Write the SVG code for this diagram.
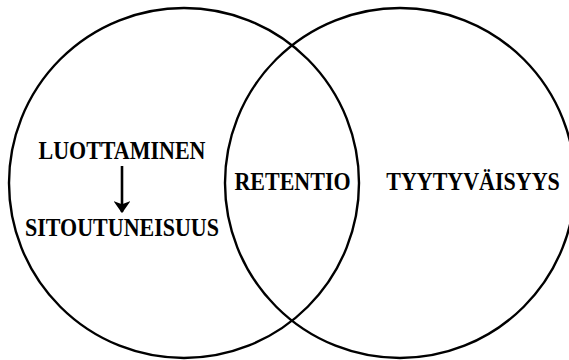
<svg xmlns="http://www.w3.org/2000/svg" width="569" height="360" viewBox="0 0 569 360">
<style>
.c{fill:none;stroke:#000;stroke-width:2.4}
.t{font-family:"Liberation Serif","Times New Roman",serif;font-weight:bold;font-size:22px;fill:#000;text-anchor:middle}
</style>
<defs>
<marker id="ah" viewBox="0 0 10 10" refX="9" refY="5" markerWidth="4.6" markerHeight="6.4" orient="auto" markerUnits="strokeWidth" preserveAspectRatio="none">
<path d="M0,0 L10,5 L0,10 L2.5,5 Z" fill="#000"/>
</marker>
</defs>
<rect width="569" height="360" fill="#fff"/>
<g id="left">
<circle class="c" cx="184" cy="183" r="175"/>
<text class="t" transform="translate(122,159) scale(1,1.13)">LUOTTAMINEN</text>
<text class="t" transform="translate(122,236) scale(1,1.13)">SITOUTUNEISUUS</text>
</g>
<g id="right">
<circle class="c" cx="400" cy="183" r="175"/>
<text class="t" transform="translate(473,190) scale(1,1.13)">TYYTYVÄISYYS</text>
</g>
<g id="overlap">
<text class="t" transform="translate(292.5,190) scale(1,1.13)">RETENTIO</text>
</g>
<g id="connectors">
<line x1="122" y1="166" x2="122" y2="212" stroke="#000" stroke-width="2.6" marker-end="url(#ah)"/>
</g>
</svg>
